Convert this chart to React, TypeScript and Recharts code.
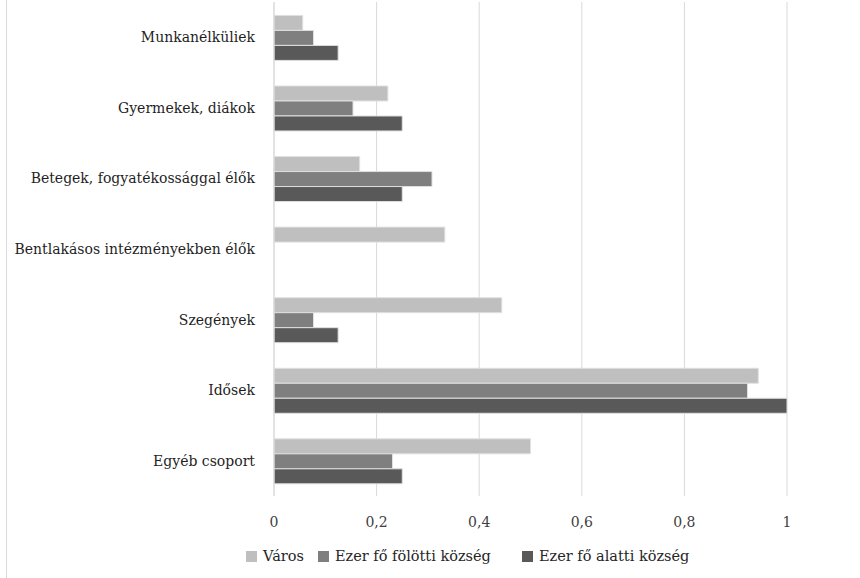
import { Bar, BarChart, CartesianGrid, Legend, XAxis, YAxis } from 'recharts';

const categories = [
  'Munkanélküliek',
  'Gyermekek, diákok',
  'Betegek, fogyatékossággal élők',
  'Bentlakásos intézményekben élők',
  'Szegények',
  'Idősek',
  'Egyéb csoport',
];

const varos = [0.056, 0.222, 0.167, 0.333, 0.444, 0.944, 0.5];
const fölötti = [0.077, 0.154, 0.308, 0, 0.077, 0.923, 0.231];
const alatti = [0.125, 0.25, 0.25, 0, 0.125, 1, 0.25];

const xTicks = [0, 0.2, 0.4, 0.6, 0.8, 1];

const series = [
  { key: 'varos', name: 'Város', color: '#bfbfbf', slot: 72 },
  { key: 'folotti', name: 'Ezer fő fölötti község', color: '#7f7f7f', slot: 204 },
  { key: 'alatti', name: 'Ezer fő alatti község', color: '#595959', slot: 170 },
];

const data = categories.map((c, i) => ({
  name: c,
  varos: varos[i],
  folotti: fölötti[i],
  alatti: alatti[i],
}));

const FONT = 'DejaVu Serif';

const fmt = (v: number) => String(v).replace('.', ',');

function LegendContent() {
  return (
    <div style={{ display: 'flex', paddingLeft: 246, fontFamily: FONT, fontSize: 14.5, color: '#262626' }}>
      {series.map((s) => (
        <div key={s.key} style={{ display: 'flex', alignItems: 'center', width: s.slot, whiteSpace: 'nowrap' }}>
          <span style={{ width: 11, height: 11, background: s.color, marginRight: 6, display: 'inline-block' }} />
          {s.name}
        </div>
      ))}
    </div>
  );
}

export default function App() {
  return (
    <div style={{ position: 'absolute', left: 0, top: 0, width: 860, height: 578, background: '#fff', fontFamily: FONT }}>
      <div style={{ position: 'absolute', left: 6, top: 0, width: 1, height: 578, background: '#d9d9d9' }} />
      <BarChart
        width={860}
        height={578}
        data={data}
        layout="vertical"
        margin={{ top: 2, right: 73, bottom: 0, left: 0 }}
        barGap={0}
        barCategoryGap="19%"
        style={{ fontFamily: FONT }}
      >
        <CartesianGrid horizontal={false} vertical stroke="#d9d9d9" />
        <XAxis
          type="number"
          domain={[0, 1]}
          ticks={xTicks}
          tickFormatter={fmt}
          axisLine={false}
          tickLine={false}
          tickSize={0}
          tickMargin={21}
          height={52}
          tick={{ fill: '#404040', fontSize: 14, fontFamily: FONT }}
        />
        <YAxis
          type="category"
          dataKey="name"
          width={274}
          axisLine={{ stroke: '#d9d9d9' }}
          tickLine={false}
          tickSize={0}
          tickMargin={19}
          tick={{ fill: '#1f1f1f', fontSize: 14, fontFamily: FONT }}
        />
        <Legend
          verticalAlign="bottom"
          height={30}
          wrapperStyle={{ left: 0, width: 860 }}
          content={<LegendContent />}
        />
        {series.map((s) => (
          <Bar
            key={s.key}
            dataKey={s.key}
            name={s.name}
            fill={s.color}
            stroke="#e0e0e0"
            strokeWidth={1}
            isAnimationActive={false}
          />
        ))}
      </BarChart>
    </div>
  );
}
